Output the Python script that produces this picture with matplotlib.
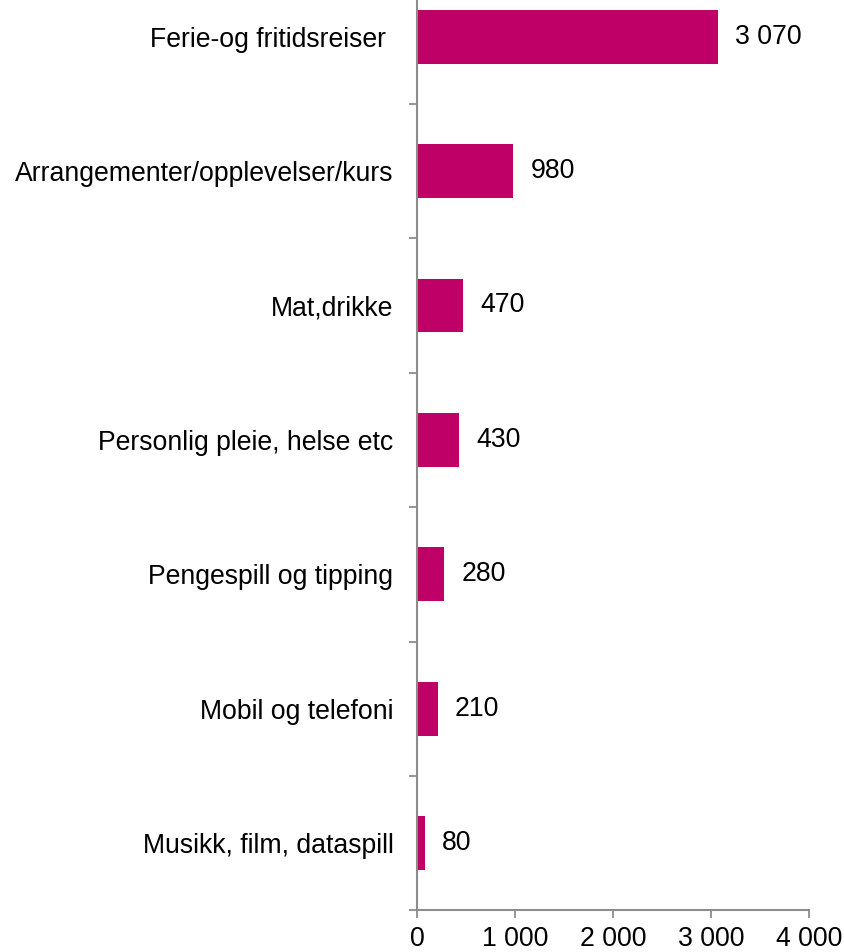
import matplotlib
matplotlib.use("Agg")
import matplotlib.pyplot as plt
from matplotlib.ticker import FixedLocator

plt.rcParams['font.family'] = ['Liberation Sans', 'DejaVu Sans']

# Spending categories (top to bottom) and amounts in NOK
categories = [
    "Ferie-og fritidsreiser ",
    "Arrangementer/opplevelser/kurs",
    "Mat,drikke",
    "Personlig pleie, helse etc",
    "Pengespill og tipping",
    "Mobil og telefoni",
    "Musikk, film, dataspill",
]
values = [3070, 980, 470, 430, 280, 210, 80]

x_ticks = [0, 1000, 2000, 3000, 4000]
x_tick_labels = ["0", "1 000", "2 000", "3 000", "4 000"]

bar_color = "#BF0066"
axis_color = "#8C8C8C"
fs = 19.2

fig = plt.figure(figsize=(8.44, 9.52), dpi=100)
ax = fig.add_axes([0.4941, 0.0437, 0.4645, 0.9884])

pos = list(range(len(categories)))
ax.barh(pos, values, height=0.4, color=bar_color, edgecolor="none")

ax.set_xlim(0, 4000)
ax.set_ylim(-0.5, len(categories) - 0.5)
ax.invert_yaxis()

# Value labels to the right of each bar
for p, v in zip(pos, values):
    txt = f"{v:,}".replace(",", " ")
    ax.annotate(txt, xy=(v, p), xytext=(12.5, 0), textcoords="offset points",
                va="center", ha="left", fontsize=fs, color="black")

# Category labels centred on bars, tick marks between categories
ax.set_yticks(pos)
ax.set_yticklabels(categories, fontsize=fs)
ax.tick_params(axis="y", which="major", length=0, pad=17)
ax.yaxis.set_minor_locator(FixedLocator([i - 0.5 for i in range(len(categories) + 1)]))
ax.tick_params(axis="y", which="minor", length=6, width=1.3, color=axis_color, direction="out")

ax.set_xticks(x_ticks)
ax.set_xticklabels(x_tick_labels, fontsize=fs)
ax.tick_params(axis="x", which="major", length=6, width=1.3, color=axis_color, pad=5)

for side in ("top", "right"):
    ax.spines[side].set_visible(False)
for side in ("left", "bottom"):
    ax.spines[side].set_color(axis_color)
    ax.spines[side].set_linewidth(1.5)

fig.savefig("out.png", dpi=100)
